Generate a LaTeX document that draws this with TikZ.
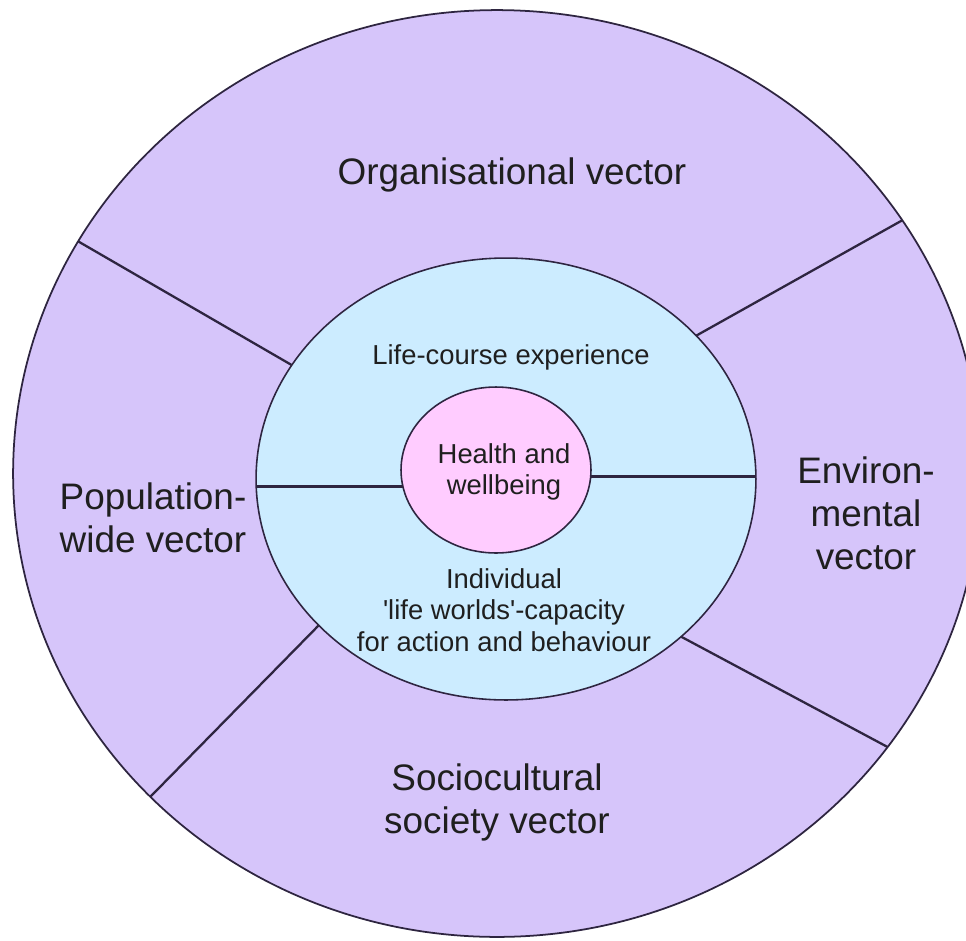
\documentclass[tikz,border=0pt]{standalone}
\usepackage{fontspec}
\setmainfont{Liberation Sans}
\usetikzlibrary{shapes.geometric}
\definecolor{outerfill}{HTML}{D6C5FA}
\definecolor{innerfill}{HTML}{CCECFF}
\definecolor{corefill}{HTML}{FFCCFF}
\definecolor{edgecol}{HTML}{2E2540}
\begin{document}
\begin{tikzpicture}[x=0.02cm,y=-0.02cm,
  ring/.style={ellipse, draw=edgecol, inner sep=0pt, outer sep=0pt},
  divider/.style={draw=edgecol, line width=1.3pt},
  bigtxt/.style={align=center, font=\fontsize{21}{24.5}\selectfont, text=black!88, inner sep=0pt},
  smalltxt/.style={align=center, font=\fontsize{15.6}{17.8}\selectfont, text=black!88, inner sep=0pt}]
\fill[white] (0,0) rectangle (966,940);
\useasboundingbox (0,0) rectangle (966,940);
\clip (0,0) rectangle (966,940);
\node[ring, fill=outerfill, line width=1pt, minimum width=19.36cm, minimum height=18.54cm] (outer) at (497,473.5) {};
\node[ring, fill=innerfill, line width=0.9pt, minimum width=10cm, minimum height=8.84cm] (life) at (506,479) {};
\node[ring, fill=corefill, line width=0.9pt, minimum width=3.8cm, minimum height=3.32cm] (core) at (496,470) {};
\draw[divider] (outer.151) -- (life.152);
\draw[divider] (outer.32) -- (life.37);
\draw[divider] (outer.223) -- (life.218);
\draw[divider] (outer.325) -- (life.318);
\draw[divider] (core.190) -- (core.190 -| life.west);
\draw[divider] (core.356) -- (core.356 -| life.east);
\node[bigtxt] (org) at (512,175) {Organisational vector};
\node[bigtxt] (pop) at (153,518) {Population-\\wide vector};
\node[bigtxt] (env) at (866,513) {Environ-\\mental\\vector};
\node[bigtxt] (soc) at (497,802) {Sociocultural\\society vector};
\node[smalltxt] (lct) at (511,357) {Life-course experience};
\node[smalltxt] (hw) at (504,472) {Health and\\wellbeing};
\node[smalltxt] (ind) at (504,610) {Individual\\\textquotesingle life worlds\textquotesingle -capacity\\for action and behaviour};
\end{tikzpicture}
\end{document}
